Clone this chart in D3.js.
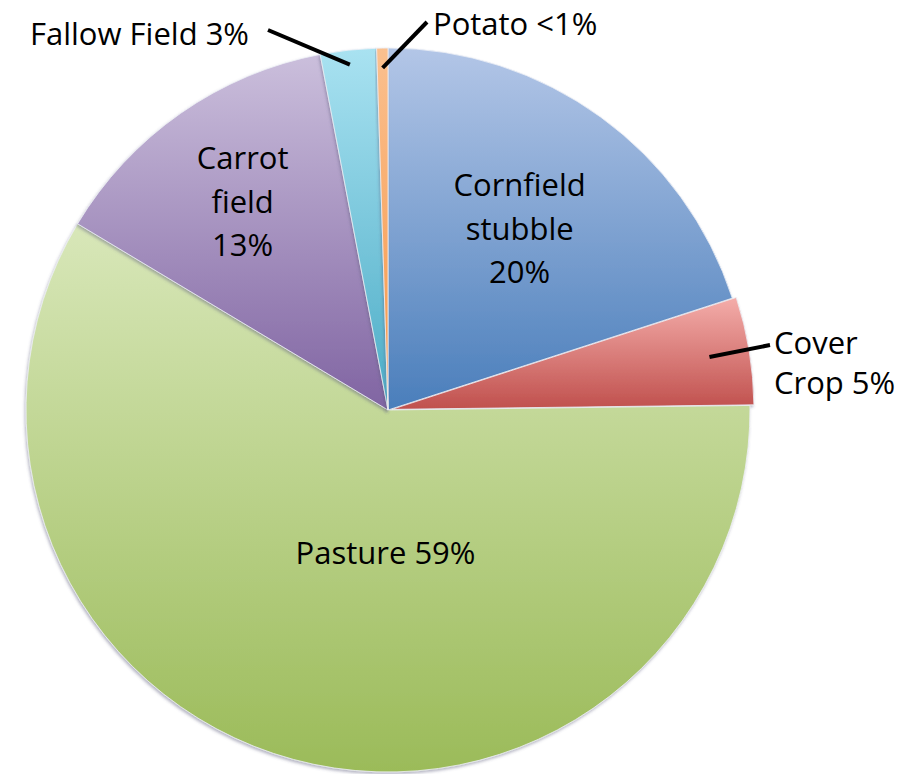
<!DOCTYPE html>
<html>
<head>
<meta charset="utf-8">
<script src="https://cdn.jsdelivr.net/npm/d3@7"></script>
<style>
	body { margin: 0; background: #fff; }
	text { font-family: "Open Sans", "Noto Sans", sans-serif; fill: #000; }
</style>
</head>
<body>
<div id="chart"></div>
<script>
// Land use categories, clockwise from 12 o'clock
var categories = ["Cornfield stubble", "Cover Crop", "Pasture", "Carrot field", "Fallow Field", "Potato"];
var values = [20, 4.8, 58.8, 13.4, 2.5, 0.5];
var labelLines = [
	["Cornfield", "stubble", "20%"],
	["Cover", "Crop 5%"],
	["Pasture 59%"],
	["Carrot", "field", "13%"],
	["Fallow Field 3%"],
	["Potato <1%"]
];
var lightColors = ["#b3c6e7", "#f4adaa", "#d8e7b9", "#cbbfdc", "#a9e2f1", "#fac08f"];
var baseColors = ["#4a7ebb", "#c0504d", "#9bbb59", "#8064a2", "#4bacc6", "#f79646"];

var width = 898, height = 774;
var cx = 388, cy = 410, R = 362;

// label placement: inside = polar position, outside = leader line + text anchor
var placement = [
	{ type: "in", r: 224, ang: null },
	{ type: "out", r0: 0.9, end: [770, 345], tx: 774, ty: 354, anchor: "start" },
	{ type: "in", r: 143, ang: 181 },
	{ type: "in", r: 254, ang: null },
	{ type: "out", r0: 0.96, end: [268, 30], tx: 249, ty: 45, anchor: "end" },
	{ type: "out", r0: 0.945, end: [427, 22], tx: 433, ty: 35, anchor: "start" }
];
var explode = [0, 4, 0, 0, 0, 0];

var svg = d3.select("#chart")
	.append("svg")
	.attr("width", width)
	.attr("height", height);

var defs = svg.append("defs");

var shadow = defs.append("filter")
	.attr("id", "shadow")
	.attr("x", "-10%").attr("y", "-10%")
	.attr("width", "120%").attr("height", "120%");
shadow.append("feDropShadow")
	.attr("dx", -1).attr("dy", 2)
	.attr("stdDeviation", 1.6)
	.attr("flood-color", "#5a5a7a")
	.attr("flood-opacity", 0.45);

categories.forEach(function(c, i) {
	var g = defs.append("linearGradient")
		.attr("id", "grad" + i)
		.attr("x1", 0).attr("y1", 0)
		.attr("x2", 0).attr("y2", 1);
	g.append("stop").attr("offset", "0%").attr("stop-color", lightColors[i]);
	g.append("stop").attr("offset", "100%").attr("stop-color", baseColors[i]);
});

var data = categories.map(function(c, i) {
	return { name: c, value: values[i], idx: i };
});

var pie = d3.pie()
	.sort(null)
	.value(function(d) { return d.value; });

var arc = d3.arc()
	.innerRadius(0)
	.outerRadius(R);

var arcs = pie(data);

var g = svg.append("g")
	.attr("transform", "translate(" + cx + "," + cy + ")");

function polar(r, a) {
	return [r * Math.sin(a), -r * Math.cos(a)];
}

g.selectAll("path.slice")
	.data(arcs)
	.enter()
	.append("path")
	.attr("class", "slice")
	.attr("d", arc)
	.attr("transform", function(d, i) {
		var p = polar(explode[i], (d.startAngle + d.endAngle) / 2);
		return "translate(" + p[0] + "," + p[1] + ")";
	})
	.attr("fill", function(d, i) { return "url(#grad" + i + ")"; })
	.attr("stroke", "#eef0f6")
	.attr("stroke-width", 0.8)
	.attr("filter", "url(#shadow)");

var lineH = 43.5;
var fs = 31;

arcs.forEach(function(d, i) {
	var pl = placement[i];
	var mid = (d.startAngle + d.endAngle) / 2;
	var lines = labelLines[i];
	if (pl.type === "in") {
		var a = pl.ang === null ? mid : pl.ang * Math.PI / 180;
		var p = polar(pl.r, a);
		var t = g.append("text")
			.attr("text-anchor", "middle")
			.attr("font-size", fs);
		lines.forEach(function(s, k) {
			t.append("tspan")
				.attr("x", p[0])
				.attr("y", p[1] + (k - (lines.length - 1) / 2) * lineH + fs * 0.36)
				.text(s);
		});
	} else {
		var s0 = polar(R * pl.r0, mid);
		g.append("line")
			.attr("x1", s0[0]).attr("y1", s0[1])
			.attr("x2", pl.end[0] - cx).attr("y2", pl.end[1] - cy)
			.attr("stroke", "#000")
			.attr("stroke-width", 4);
		var t2 = svg.append("text")
			.attr("text-anchor", pl.anchor)
			.attr("font-size", fs);
		lines.forEach(function(s, k) {
			t2.append("tspan")
				.attr("x", pl.tx)
				.attr("y", pl.ty + k * 40)
				.text(s);
		});
	}
});
</script>
</body>
</html>
